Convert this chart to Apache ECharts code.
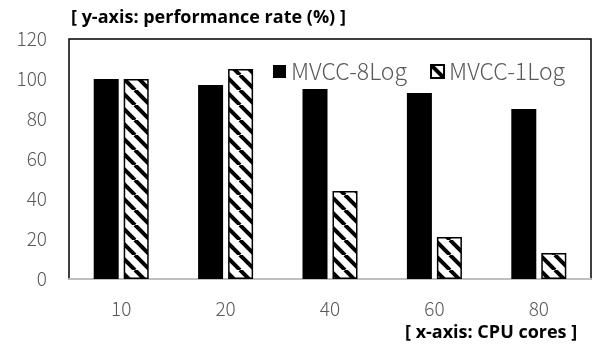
<!DOCTYPE html>
<html>
<head>
<meta charset="utf-8">
<script src="https://cdn.jsdelivr.net/npm/echarts@6/dist/echarts.min.js"></script>
<style>
html,body{margin:0;padding:0;background:#fff;}
#c{width:600px;height:345px;}
</style>
</head>
<body>
<div id="c"></div>
<script>
var categories = ['10', '20', '40', '60', '80'];
var series8Log = [100, 97, 95, 93, 85];
var series1Log = [100, 105, 44, 21, 13];
var seriesNames = ['MVCC-8Log', 'MVCC-1Log'];
var yTitle = '[ y-axis: performance rate (%) ]';
var xTitle = '[ x-axis: CPU cores ]';

function makeHatch() {
  var s = 15;
  var cv = document.createElement('canvas');
  cv.width = s; cv.height = s;
  var ctx = cv.getContext('2d');
  ctx.fillStyle = '#fff';
  ctx.fillRect(0, 0, s, s);
  ctx.strokeStyle = '#000';
  ctx.lineWidth = 4;
  for (var k = -s; k <= s; k += s) {
    ctx.beginPath();
    ctx.moveTo(k, 0);
    ctx.lineTo(k + s, s);
    ctx.stroke();
  }
  return cv;
}

var font = "'Noto Sans CJK JP', 'Noto Sans', sans-serif";
var chart = echarts.init(document.getElementById('c'), null, {renderer: 'canvas'});
chart.setOption({
  animation: false,
  backgroundColor: '#fff',
  title: [
    {text: yTitle, left: 66, top: 4, textStyle: {fontFamily: "'Open Sans', sans-serif", fontWeight: 'bold', fontSize: 18, color: '#000'}},
    {text: xTitle, left: 400, top: 319, textStyle: {fontFamily: "'Open Sans', sans-serif", fontWeight: 'bold', fontSize: 18, color: '#000'}}
  ],
  legend: {
    left: 268, top: 55,
    itemWidth: 13, itemHeight: 13, itemGap: 23,
    icon: 'rect',
    textStyle: {fontFamily: font, fontWeight: 300, fontSize: 23, color: '#595959'},
    data: seriesNames
  },
  grid: {
    left: 69, right: 9, top: 39, bottom: 66,
    show: true, borderColor: '#000', borderWidth: 1.5, backgroundColor: '#fff'
  },
  xAxis: {
    type: 'category',
    data: categories,
    axisLine: {lineStyle: {color: '#bfbfbf', width: 2}},
    axisTick: {show: false},
    axisLabel: {margin: 20, fontFamily: font, fontWeight: 300, fontSize: 19, color: '#595959'}
  },
  yAxis: {
    type: 'value', min: 0, max: 120, interval: 20,
    axisLine: {show: false}, axisTick: {show: false},
    splitLine: {show: false},
    axisLabel: {margin: 22, fontFamily: font, fontWeight: 300, fontSize: 19, color: '#595959'}
  },
  series: [
    {name: seriesNames[0], type: 'bar', data: series8Log, barWidth: 25, barGap: '20%',
     itemStyle: {color: '#000'}},
    {name: seriesNames[1], type: 'bar', data: series1Log, barWidth: 25,
     itemStyle: {color: {image: makeHatch(), repeat: 'repeat'}, borderColor: '#000', borderWidth: 1.5}}
  ]
});
</script>
</body>
</html>
